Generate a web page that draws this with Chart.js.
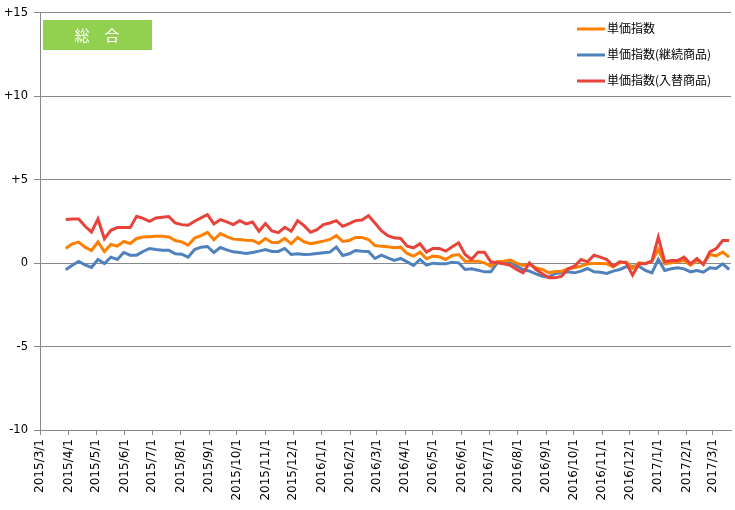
<!DOCTYPE html>
<html>
<head>
<meta charset="utf-8">
<script src="https://cdn.jsdelivr.net/npm/chart.js@4.4.1/dist/chart.umd.min.js"></script>
<style>
  html, body { margin: 0; padding: 0; background: #fff; }
  #wrap { width: 735px; height: 510px; }
</style>
</head>
<body>
<div id="wrap"><canvas id="c" width="735" height="510"></canvas></div>
<script>
const chartTitle = "総　合";
const seriesNames = ["単価指数", "単価指数(継続商品)", "単価指数(入替商品)"];
const firstWeek = "2015/3/29";   // first weekly observation
const axisStart = "2015/3/1";
const axisEnd = "2017/3/21";
const xTickLabels = ["2015/3/1","2015/4/1","2015/5/1","2015/6/1","2015/7/1","2015/8/1","2015/9/1","2015/10/1","2015/11/1","2015/12/1","2016/1/1","2016/2/1","2016/3/1","2016/4/1","2016/5/1","2016/6/1","2016/7/1","2016/8/1","2016/9/1","2016/10/1","2016/11/1","2016/12/1","2017/1/1","2017/2/1","2017/3/1"];
const yTickLabels = ["-10","-5","0","+5","+10","+15"];
const yTickValues = [-10,-5,0,5,10,15];

const unitPrice = [0.88,1.16,1.26,0.96,0.76,1.28,0.70,1.12,1.02,1.30,1.18,1.48,1.57,1.59,1.61,1.61,1.57,1.36,1.28,1.08,1.50,1.65,
  1.85,1.40,1.77,1.59,1.44,1.42,1.38,1.36,1.18,1.48,1.24,1.24,1.48,1.16,1.54,1.28,1.16,1.24,1.32,1.42,1.65,1.30,1.36,1.54,1.54,1.42,
  1.06,1.02,0.98,0.92,0.96,0.58,0.42,0.66,0.26,0.42,0.38,0.22,0.46,0.52,0.12,0.12,0.12,0.02,-0.18,0.08,0.12,0.18,0.00,-0.14,-0.08,-0.28,-0.38,-0.58,
  -0.50,-0.48,-0.34,-0.28,-0.18,-0.04,-0.02,-0.02,-0.04,-0.22,0.02,0.06,-0.30,0.02,-0.02,0.12,0.82,-0.04,0.02,0.08,0.16,-0.12,0.16,-0.04,0.52,0.44,0.66,0.36];
const continuing = [-0.40,-0.12,0.10,-0.10,-0.26,0.22,-0.02,0.36,0.22,0.64,0.48,0.48,0.70,0.88,0.82,0.78,0.78,0.56,0.54,0.36,0.82,0.96,
  1.00,0.64,0.94,0.80,0.68,0.64,0.58,0.64,0.72,0.82,0.70,0.70,0.88,0.52,0.56,0.52,0.54,0.58,0.62,0.66,0.96,0.46,0.56,0.76,0.72,0.70,
  0.28,0.48,0.32,0.16,0.28,0.08,-0.14,0.22,-0.12,0.00,-0.04,-0.04,0.06,0.02,-0.38,-0.34,-0.42,-0.52,-0.52,0.02,0.08,0.12,-0.18,-0.38,-0.48,-0.64,-0.78,-0.84,
  -0.62,-0.58,-0.52,-0.58,-0.48,-0.32,-0.52,-0.54,-0.62,-0.48,-0.38,-0.22,-0.18,-0.18,-0.44,-0.58,0.22,-0.44,-0.34,-0.28,-0.34,-0.52,-0.44,-0.54,-0.28,-0.32,-0.04,-0.38];
const replaced = [2.61,2.65,2.65,2.21,1.87,2.65,1.46,1.97,2.13,2.13,2.13,2.81,2.69,2.51,2.71,2.75,2.79,2.41,2.31,2.27,2.51,2.71,
  2.91,2.35,2.61,2.47,2.31,2.55,2.35,2.47,1.91,2.37,1.93,1.83,2.15,1.91,2.55,2.25,1.85,2.01,2.31,2.41,2.55,2.21,2.37,2.55,2.59,2.85,
  2.41,1.95,1.65,1.52,1.48,1.02,0.92,1.16,0.66,0.88,0.88,0.72,0.98,1.22,0.52,0.22,0.66,0.66,0.08,0.02,-0.04,-0.12,-0.38,-0.58,0.02,-0.38,-0.64,-0.88,
  -0.88,-0.78,-0.34,-0.18,0.22,0.08,0.48,0.36,0.22,-0.18,0.08,0.02,-0.72,-0.04,-0.04,0.12,1.56,0.08,0.16,0.16,0.36,-0.04,0.28,-0.08,0.68,0.88,1.36,1.36];

const colors = ["#FF8000", "#4F81BD", "#E8433A"];

const DAY = 86400000;
function dayOf(s) { const p = s.split("/").map(Number); return Math.round((Date.UTC(p[0], p[1]-1, p[2]) - Date.UTC(2015, 2, 1)) / DAY); }
const d0 = dayOf(firstWeek);
function toPoints(arr) { return arr.map((v, i) => ({ x: d0 + 7 * i, y: v })); }
const xTickDays = xTickLabels.map(dayOf);

const overlayPlugin = {
  id: "overlay",
  afterDraw(chart) {
    const ctx = chart.ctx;
    ctx.save();
    // title box
    ctx.fillStyle = "#92D050";
    ctx.fillRect(43, 20, 109, 30);
    ctx.fillStyle = "#ffffff";
    ctx.font = "15px 'Noto Sans CJK JP'";
    ctx.textAlign = "center";
    ctx.textBaseline = "middle";
    ctx.fillText(chartTitle, 97, 35);
    // legend
    ctx.fillStyle = "#ffffff";
    ctx.fillRect(568, 14, 155, 82);
    const rows = [28, 54, 80];
    ctx.font = "12px 'Noto Sans CJK JP'";
    ctx.textAlign = "left";
    ctx.textBaseline = "middle";
    chart.data.datasets.forEach((ds, i) => {
      ctx.strokeStyle = ds.borderColor;
      ctx.lineWidth = 3;
      ctx.beginPath();
      ctx.moveTo(577, rows[i] + 1);
      ctx.lineTo(605, rows[i] + 1);
      ctx.stroke();
      ctx.fillStyle = "#000";
      ctx.fillText(ds.label, 607, rows[i]);
    });
    ctx.restore();
  }
};

new Chart(document.getElementById("c"), {
  type: "line",
  data: {
    datasets: [
      { label: seriesNames[0], data: toPoints(unitPrice), borderColor: colors[0], order: 2 },
      { label: seriesNames[1], data: toPoints(continuing), borderColor: colors[1], order: 3 },
      { label: seriesNames[2], data: toPoints(replaced), borderColor: colors[2], order: 1 }
    ].map(d => Object.assign(d, { borderWidth: 3, pointRadius: 0, tension: 0, fill: false }))
  },
  options: {
    responsive: false,
    animation: false,
    devicePixelRatio: 1,
    layout: { padding: { top: 12, right: 4, left: 0, bottom: 0 } },
    plugins: { legend: { display: false }, tooltip: { enabled: false } },
    scales: {
      x: {
        type: "linear",
        min: 0,
        max: dayOf(axisEnd),
        afterBuildTicks(scale) { scale.ticks = xTickDays.map(v => ({ value: v })); },
        afterFit(scale) { scale.height = 80; },
        ticks: {
          autoSkip: false,
          maxRotation: 90,
          minRotation: 90,
          padding: 4,
          color: "#000",
          font: { family: "DejaVu Sans", size: 12 },
          callback(v) { const i = xTickDays.indexOf(v); return i >= 0 ? xTickLabels[i] : ""; }
        },
        grid: { drawOnChartArea: false, drawTicks: true, tickLength: 5, color: "#888" },
        border: { color: "#888", width: 1 }
      },
      y: {
        min: -10,
        max: 15,
        afterBuildTicks(scale) { scale.ticks = yTickValues.map(v => ({ value: v })); },
        afterFit(scale) { scale.width = 40; },
        ticks: {
          padding: 6,
          color: "#000",
          font: { family: "DejaVu Sans", size: 11.5 },
          callback(v) { const i = yTickValues.indexOf(v); return i >= 0 ? yTickLabels[i] : ""; }
        },
        grid: { color: "#888", lineWidth: 1, drawTicks: true, tickLength: 6 },
        border: { color: "#888", width: 1 }
      }
    }
  },
  plugins: [overlayPlugin]
});
</script>
</body>
</html>
